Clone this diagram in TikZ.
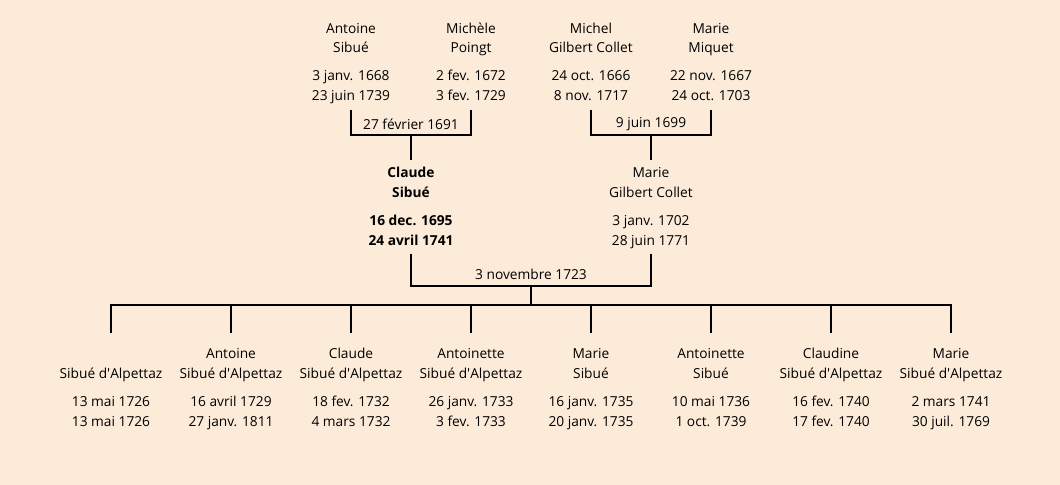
\documentclass[tikz,border=0pt]{standalone}
\usepackage{fontspec}
\setmainfont{Open Sans}
\usetikzlibrary{positioning}
\definecolor{fond}{RGB}{252,235,217}
\tikzstyle{personne} = [align=center, inner sep=0pt, outer sep=2pt, font=\fontsize{10.3}{15}\selectfont]
\tikzstyle{souche} = [personne, font=\fontsize{10.3}{15}\selectfont\bfseries]
\tikzstyle{enfant} = [personne, outer sep=8pt]
\tikzstyle{union} = [inner sep=1pt, font=\fontsize{10.3}{15}\selectfont]
\tikzstyle{lien} = [line width=1.5pt]
\newcommand{\fiche}[4]{\strut #1\\#2\\[6pt]#3\\#4\strut}
\newcommand{\alpettaz}{Sibué d\textquotesingle Alpettaz}

\begin{document}
\begin{tikzpicture}[x=0.75pt, y=-0.75pt]
\fill[fond] (0,0) rectangle (1060,485);

\node (antoine) [personne] at (351,63) {\fiche{Antoine}{Sibué}{3 janv. 1668}{23 juin 1739}};
\node (michele) [personne] at (471,63) {\fiche{Michèle}{Poingt}{2 fev. 1672}{3 fev. 1729}};
\node (michel) [personne] at (591,63) {\fiche{Michel}{Gilbert Collet}{24 oct. 1666}{8 nov. 1717}};
\node (miquet) [personne] at (711,63) {\fiche{Marie}{Miquet}{22 nov. 1667}{24 oct. 1703}};

\node (claude) [souche] at (411,207) {\fiche{Claude}{Sibué}{16 dec. 1695}{24 avril 1741}};
\node (marie) [personne] at (651,207) {\fiche{Marie}{Gilbert Collet}{3 janv. 1702}{28 juin 1771}};

\node (e1) [enfant] at (111,388) {\fiche{}{\alpettaz}{13 mai 1726}{13 mai 1726}};
\node (e2) [enfant] at (231,388) {\fiche{Antoine}{\alpettaz}{16 avril 1729}{27 janv. 1811}};
\node (e3) [enfant] at (351,388) {\fiche{Claude}{\alpettaz}{18 fev. 1732}{4 mars 1732}};
\node (e4) [enfant] at (471,388) {\fiche{Antoinette}{\alpettaz}{26 janv. 1733}{3 fev. 1733}};
\node (e5) [enfant] at (591,388) {\fiche{Marie}{Sibué}{16 janv. 1735}{20 janv. 1735}};
\node (e6) [enfant] at (711,388) {\fiche{Antoinette}{Sibué}{10 mai 1736}{1 oct. 1739}};
\node (e7) [enfant] at (831,388) {\fiche{Claudine}{\alpettaz}{16 fev. 1740}{17 fev. 1740}};
\node (e8) [enfant] at (951,388) {\fiche{Marie}{\alpettaz}{2 mars 1741}{30 juil. 1769}};

\coordinate (u1691) at (411,135);
\draw[lien] (antoine.south) |- (u1691) -| (michele.south);
\draw[lien] (u1691) -- (claude.north);
\node (d1691) [union] at (411,124) {27 février 1691};

\coordinate (u1699) at (651,135);
\draw[lien] (michel.south) |- (u1699) -| (miquet.south);
\draw[lien] (u1699) -- (marie.north);
\node (d1699) [union] at (651,124) {9 juin 1699};

\coordinate (u1723) at (531,286);
\draw[lien] (claude.south) |- (u1723) -| (marie.south);
\node (d1723) [union] at (531,274) {3 novembre 1723};

\coordinate (fratrie) at (531,305);
\draw[lien] (u1723) -- (fratrie);
\draw[lien] (e1.north) |- (fratrie) -| (e8.north);
\draw[lien] (e2.north |- fratrie) -- (e2.north);
\draw[lien] (e3.north |- fratrie) -- (e3.north);
\draw[lien] (e4.north |- fratrie) -- (e4.north);
\draw[lien] (e5.north |- fratrie) -- (e5.north);
\draw[lien] (e6.north |- fratrie) -- (e6.north);
\draw[lien] (e7.north |- fratrie) -- (e7.north);
\end{tikzpicture}
\end{document}
